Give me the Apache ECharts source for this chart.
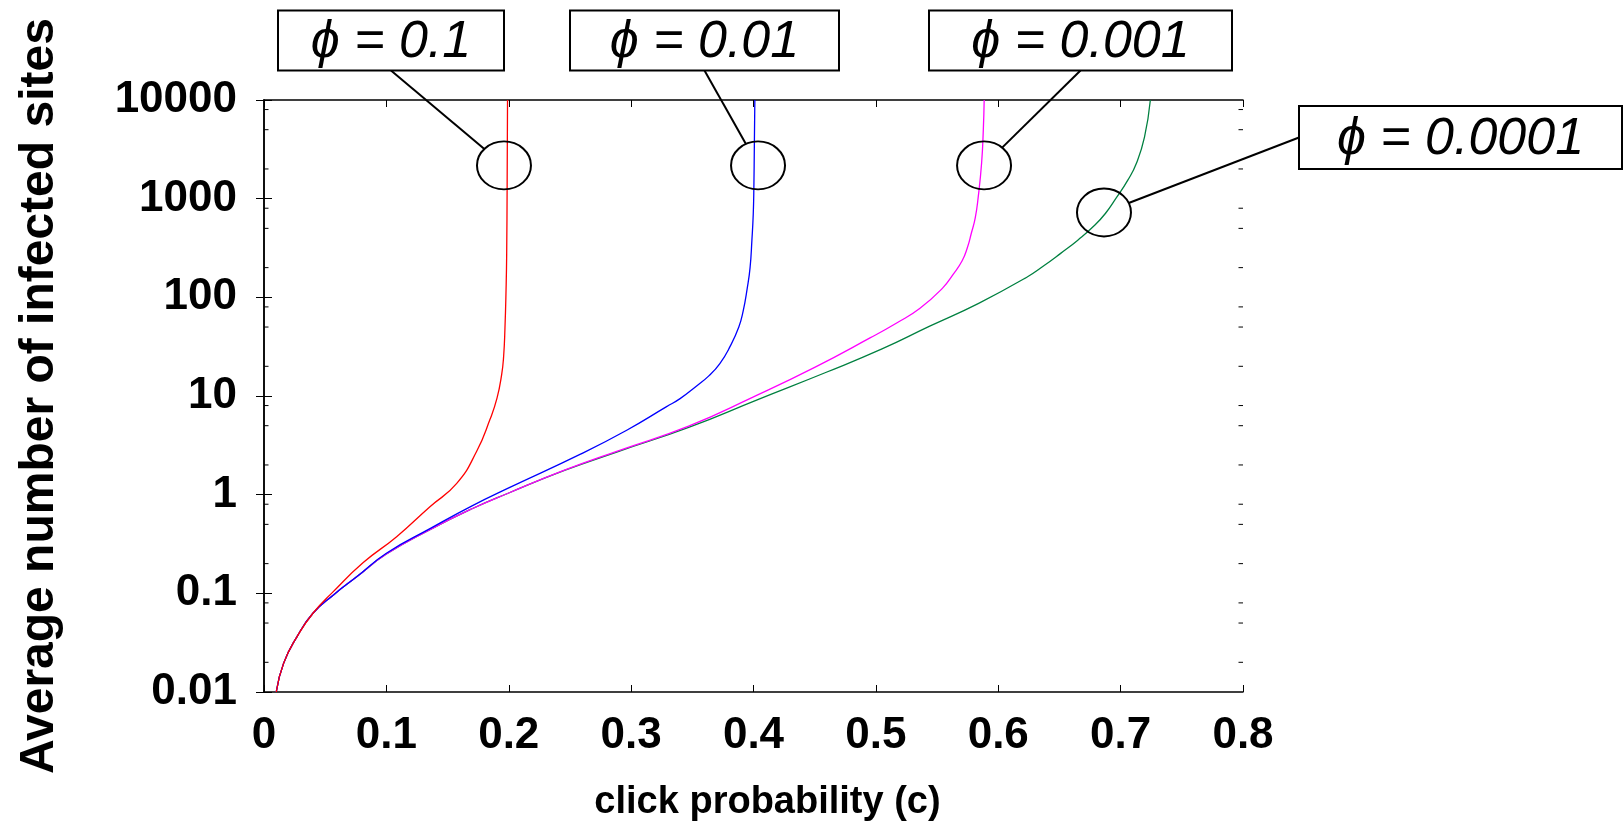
<!DOCTYPE html>
<html>
<head>
<meta charset="utf-8">
<script src="https://cdn.jsdelivr.net/npm/echarts@6/dist/echarts.min.js"></script>
<style>html,body{margin:0;padding:0;background:#fff}#chart{width:1624px;height:825px}</style>
</head>
<body>
<div id="chart"></div>
<script>
// ---- data ----
const xTickLabels = ['0', '0.1', '0.2', '0.3', '0.4', '0.5', '0.6', '0.7', '0.8'];
const yTickLabels = ['0.01', '0.1', '1', '10', '100', '1000', '10000'];
const yMinorTicks = [0.02, 0.05, 0.08, 0.2, 0.5, 0.8, 2, 5, 8, 20, 50, 80, 200, 500, 800, 2000, 5000, 8000];
const seriesNames = ['\u03D5 = 0.1', '\u03D5 = 0.01', '\u03D5 = 0.001', '\u03D5 = 0.0001'];

// phi = 0.1 (red)
const cRed = [0.01, 0.016, 0.027, 0.04, 0.0566, 0.0811, 0.1084, 0.1356, 0.1575, 0.1738, 0.1847, 0.1904, 0.1942, 0.1958, 0.1969, 0.1978, 0.1983, 0.1987, 0.199];
const nRed = [0.01, 0.0195, 0.0364, 0.0628, 0.104, 0.205, 0.375, 0.755, 1.30, 2.75, 5.8, 9.5, 16.5, 25, 48.5, 120, 268, 1500, 10000];

// phi = 0.01 (blue)
const cBlue = [0.01, 0.016, 0.027, 0.04, 0.057, 0.076, 0.1, 0.136, 0.17, 0.2, 0.2582, 0.2964, 0.329, 0.34, 0.353, 0.3635, 0.3725, 0.381, 0.388, 0.3915, 0.3949, 0.3972, 0.3987, 0.3998, 0.4003, 0.4007, 0.4011];
const nBlue = [0.01, 0.0195, 0.0364, 0.0628, 0.097, 0.148, 0.255, 0.455, 0.77, 1.17, 2.56, 4.5, 7.8, 9.4, 12.5, 16, 21.3, 32, 50, 72, 124, 200, 380, 700, 1300, 3500, 10000];

// phi = 0.001 (magenta)
const cMagenta = [0.01, 0.016, 0.027, 0.04, 0.057, 0.076, 0.1, 0.136, 0.17, 0.2, 0.245, 0.29, 0.347, 0.4, 0.45, 0.4956, 0.517, 0.5358, 0.5545, 0.563, 0.5705, 0.5748, 0.578, 0.5812, 0.5836, 0.5864, 0.5878, 0.5885];
const nMagenta = [0.01, 0.0195, 0.0364, 0.0628, 0.097, 0.148, 0.25, 0.445, 0.72, 1.04, 1.76, 2.8, 4.95, 9.8, 19.5, 39, 55, 77, 124, 170, 235, 320, 446, 640, 1030, 2300, 5000, 10000];

// phi = 0.0001 (green)
const cGreen = [0.01, 0.016, 0.027, 0.04, 0.057, 0.076, 0.1, 0.136, 0.17, 0.2, 0.245, 0.29, 0.347, 0.4035, 0.46, 0.505, 0.544, 0.584, 0.623, 0.6375, 0.651, 0.665, 0.679, 0.688, 0.696, 0.706, 0.713, 0.7195, 0.7243];
const nGreen = [0.01, 0.0195, 0.0364, 0.0628, 0.097, 0.148, 0.25, 0.445, 0.72, 1.04, 1.75, 2.75, 4.8, 9.2, 17.5, 30, 51, 87, 159, 210, 279, 380, 540, 720, 1000, 1550, 2300, 4200, 10000];

// points on the curves that the annotation ellipses mark
const annotCenters = [[0.1961, 2170], [0.4037, 2170], [0.5884, 2170], [0.6864, 724]];

// ---- layout (pixels) ----
const boxes = [
  { x: 278, y: 10.5, w: 226, h: 60, ax: 391, ay: 70.5 },
  { x: 570, y: 10.5, w: 269, h: 60, ax: 704.5, ay: 70.5 },
  { x: 929, y: 10.5, w: 303, h: 60, ax: 1080.5, ay: 70.5 },
  { x: 1299, y: 106, w: 323, h: 63, ax: 1299, ay: 137.5 }
];
const RX = 27, RY = 24;
const colors = ['#ff0000', '#0000ff', '#ff00ff', '#008040'];

const pairs = (cs, ns) => cs.map((c, i) => [c, ns[i]]);
const curveData = [pairs(cRed, nRed), pairs(cBlue, nBlue), pairs(cMagenta, nMagenta), pairs(cGreen, nGreen)];

const chart = echarts.init(document.getElementById('chart'), null, { renderer: 'canvas' });

const tickFont = { fontFamily: '"Liberation Sans", Arial, sans-serif', fontWeight: 'bold', fontSize: 44, color: '#000' };

const lineSeries = [3, 2, 1, 0].map(i => ({
  name: seriesNames[i],
  type: 'line',
  data: curveData[i],
  showSymbol: false,
  symbol: 'none',
  smooth: 0.5,
  lineStyle: { color: colors[i], width: 1.3 },
  itemStyle: { color: colors[i] },
  z: 3,
  animation: false
}));

const minorTickSeries = {
  type: 'custom',
  silent: true,
  clip: false,
  z: 4,
  data: yMinorTicks.map(v => [0, v]),
  renderItem: (params, api) => {
    const v = api.value(1);
    const pl = api.coord([0, v]);
    const pr = api.coord([0.8, v]);
    const st = { stroke: '#000', lineWidth: 1 };
    return {
      type: 'group',
      children: [
        { type: 'line', shape: { x1: pl[0], y1: pl[1], x2: pl[0] + 4.5, y2: pl[1] }, style: st },
        { type: 'line', shape: { x1: pr[0], y1: pr[1], x2: pr[0] - 4.5, y2: pr[1] }, style: st }
      ]
    };
  },
  animation: false
};

const annotSeries = {
  type: 'custom',
  silent: true,
  clip: false,
  z: 10,
  data: annotCenters,
  renderItem: (params, api) => {
    const i = params.dataIndex;
    const b = boxes[i];
    const p = api.coord([api.value(0), api.value(1)]);
    const dx = b.ax - p[0], dy = b.ay - p[1];
    const s = 1 / Math.sqrt((dx / RX) * (dx / RX) + (dy / RY) * (dy / RY));
    const ex = p[0] + s * dx, ey = p[1] + s * dy;
    const st = { stroke: '#000', lineWidth: 2 };
    return {
      type: 'group',
      children: [
        { type: 'line', shape: { x1: b.ax, y1: b.ay, x2: ex, y2: ey }, style: st },
        { type: 'circle', x: p[0], y: p[1], scaleX: 1, scaleY: RY / RX,
          shape: { cx: 0, cy: 0, r: RX }, style: { fill: 'none', stroke: '#000', lineWidth: 2, strokeNoScale: true } },
        { type: 'rect', shape: { x: b.x, y: b.y, width: b.w, height: b.h },
          style: { fill: '#fff', stroke: '#000', lineWidth: 2 } },
        { type: 'text', style: {
            text: seriesNames[i], x: b.x + b.w / 2, y: b.y + b.h / 2 + 2,
            textAlign: 'center', textVerticalAlign: 'middle',
            font: 'italic 52px "Liberation Sans", Arial, sans-serif', fill: '#000' } }
      ]
    };
  },
  animation: false
};

const xAxisCommon = {
  type: 'value', min: 0, max: 0.8, interval: 0.1,
  axisLine: { show: true, lineStyle: { color: '#000', width: 1.5 } },
  axisTick: { show: true, inside: true, length: 7, lineStyle: { color: '#000', width: 1 } },
  splitLine: { show: false }
};
const yAxisCommon = {
  type: 'log', logBase: 10, min: 0.01, max: 10000, interval: 1,
  axisLine: { show: true, lineStyle: { color: '#000', width: 1.5 } },
  axisTick: { show: true, inside: true, length: 8, lineStyle: { color: '#000', width: 1 } },
  minorTick: { show: false },
  splitLine: { show: false }
};

chart.setOption({
  animation: false,
  backgroundColor: '#fff',
  grid: { left: 264, right: 381, top: 100, bottom: 133, containLabel: false, outerBoundsMode: 'none' },
  xAxis: [
    Object.assign({}, xAxisCommon, {
      position: 'bottom',
      name: 'click probability (c)',
      nameLocation: 'middle',
      nameGap: 92,
      nameTextStyle: { fontFamily: '"Liberation Sans", Arial, sans-serif', fontWeight: 'bold', fontSize: 38, color: '#000', padding: [0, 0, 0, 28] },
      axisLabel: Object.assign({ margin: 22, formatter: v => xTickLabels[Math.round(v * 10)] ?? '' }, tickFont)
    }),
    Object.assign({}, xAxisCommon, { position: 'top', axisLabel: { show: false } })
  ],
  yAxis: [
    Object.assign({}, yAxisCommon, {
      position: 'left',
      name: 'Average number of infected sites',
      nameLocation: 'middle',
      nameGap: 200,
      nameRotate: 90,
      nameTextStyle: { fontFamily: '"Liberation Sans", Arial, sans-serif', fontWeight: 'bold', fontSize: 48, color: '#000' },
      axisLabel: Object.assign({ margin: 27, formatter: v => yTickLabels[Math.round(Math.log10(v)) + 2] ?? '' }, tickFont)
    }),
    Object.assign({}, yAxisCommon, { position: 'right', axisLabel: { show: false } })
  ],
  series: lineSeries.concat([minorTickSeries, annotSeries])
});
</script>
</body>
</html>
